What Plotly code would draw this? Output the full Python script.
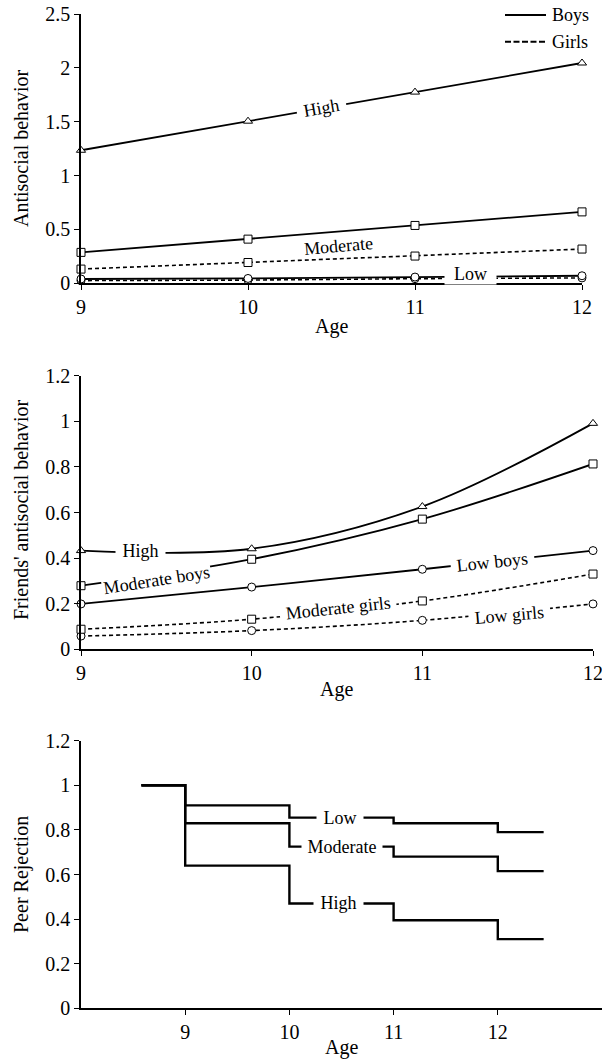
import plotly.graph_objects as go

W, H = 602, 1059
FONT = "Liberation Serif"

ages = [9, 10, 11, 12]

# Panel 1: Antisocial behavior
asb_high_boys = [1.235, 1.505, 1.775, 2.045]
asb_mod_boys = [0.287, 0.41, 0.537, 0.663]
asb_mod_girls = [0.132, 0.193, 0.253, 0.318]
asb_low_boys = [0.04, 0.045, 0.058, 0.07]
asb_low_girls = [0.025, 0.03, 0.043, 0.05]

# Panel 2: Friends' antisocial behavior
fr_high = [0.433, 0.441, 0.626, 0.991]
fr_mod_boys = [0.279, 0.395, 0.571, 0.813]
fr_low_boys = [0.199, 0.273, 0.351, 0.433]
fr_mod_girls = [0.088, 0.132, 0.212, 0.330]
fr_low_girls = [0.058, 0.082, 0.127, 0.199]

# Panel 3: Peer rejection (survival-type steps)
rej_x = [8.58, 9, 10, 11, 12, 12.44]
rej_low = [1.0, 0.91, 0.855, 0.83, 0.79, 0.79]
rej_mod = [1.0, 0.83, 0.725, 0.68, 0.615, 0.615]
rej_high = [1.0, 0.64, 0.47, 0.395, 0.31, 0.31]

tick_vals_x = [9, 10, 11, 12]


def px_x(p):
    return p / W


def px_y(p):
    return 1 - p / H


fig = go.Figure()

DASH = "4px,3px"


def add_line(x, y, xa, ya, symbol=None, dash="solid", shape="linear", width=1.8):
    mode = "lines+markers" if symbol else "lines"
    fig.add_trace(go.Scatter(
        x=x, y=y, xaxis=xa, yaxis=ya, mode=mode,
        line=dict(color="black", width=width, dash=dash, shape=shape),
        marker=dict(symbol=symbol, size=8, color="white",
                    line=dict(color="black", width=1)) if symbol else None,
        cliponaxis=False, showlegend=False, hoverinfo="skip"))


# Panel 1
add_line(ages, asb_low_girls, "x", "y", "circle", DASH, width=1.6)
add_line(ages, asb_low_boys, "x", "y", "circle")
add_line(ages, asb_mod_girls, "x", "y", "square", DASH, width=1.6)
add_line(ages, asb_mod_boys, "x", "y", "square")
add_line(ages, asb_high_boys, "x", "y", "triangle-up")

# Panel 2
add_line(ages, fr_low_girls, "x2", "y2", "circle", DASH, "spline", width=1.6)
add_line(ages, fr_mod_girls, "x2", "y2", "square", DASH, "spline", width=1.6)
add_line(ages, fr_low_boys, "x2", "y2", "circle", "solid", "spline")
add_line(ages, fr_mod_boys, "x2", "y2", "square", "solid", "spline")
add_line(ages, fr_high, "x2", "y2", "triangle-up", "solid", "spline")

# Panel 3
for series in (rej_low, rej_mod, rej_high):
    add_line(rej_x, series, "x3", "y3", None, "solid", "hv", width=2.4)

axis_common = dict(
    showline=True, linecolor="black", linewidth=1.5,
    ticks="outside", ticklen=5, tickwidth=1.2, tickcolor="black",
    showgrid=False, zeroline=False, fixedrange=True, automargin=False,
    ticklabeloverflow="allow",
    tickfont=dict(family=FONT, size=20, color="black"),
)

fig.update_layout(
    template="none",
    width=W, height=H,
    margin=dict(l=0, r=0, t=0, b=0, pad=0),
    paper_bgcolor="white", plot_bgcolor="white",
    showlegend=False,
    xaxis=dict(domain=[px_x(81), px_x(582)], range=[9, 12], anchor="y",
               tickvals=tick_vals_x, **axis_common),
    yaxis=dict(domain=[px_y(283.3), px_y(14)], range=[0, 2.5], anchor="x",
               tickvals=[0, 0.5, 1, 1.5, 2, 2.5],
               ticktext=["0", "0.5", "1", "1.5", "2", "2.5"], **axis_common),
    xaxis2=dict(domain=[px_x(81), px_x(593)], range=[9, 12], anchor="y2",
                tickvals=tick_vals_x, **axis_common),
    yaxis2=dict(domain=[px_y(649.3), px_y(375.7)], range=[0, 1.2], anchor="x2",
                tickvals=[0, 0.2, 0.4, 0.6, 0.8, 1, 1.2],
                ticktext=["0", "0.2", "0.4", "0.6", "0.8", "1", "1.2"], **axis_common),
    xaxis3=dict(domain=[px_x(81), 1.0], range=[8, 13], anchor="y3",
                tickvals=tick_vals_x, **axis_common),
    yaxis3=dict(domain=[px_y(1008.3), px_y(740.7)], range=[0, 1.2], anchor="x3",
                tickvals=[0, 0.2, 0.4, 0.6, 0.8, 1, 1.2],
                ticktext=["0", "0.2", "0.4", "0.6", "0.8", "1", "1.2"], **axis_common),
)

NB = "\u00a0"
ann_font = dict(family=FONT, size=18, color="black")


def label(text, x, y, xr, yr, angle=0, pad=1):
    fig.add_annotation(text=text, x=x, y=y, xref=xr, yref=yr, showarrow=False,
                       textangle=angle, bgcolor="white", borderpad=pad,
                       font=ann_font, xanchor="center", yanchor="middle")


# Panel 1 labels
label(NB + "High" + NB, 10.44, 1.624, "x", "y", -10, 2)
fig.add_annotation(text="Moderate", x=10.54, y=0.345, xref="x", yref="y",
                   showarrow=False, textangle=-5, font=ann_font)
label(NB * 2 + "Low" + NB * 2, 11.33, 0.09, "x", "y", 0, 0)

# Panel 2 labels
label(NB + "High" + NB, 9.35, 0.43, "x2", "y2", 0, 2)
label("Moderate boys", 9.445, 0.304, "x2", "y2", -9, 1)
label(NB + "Low boys" + NB, 11.41, 0.384, "x2", "y2", -6, 1)
label(NB + "Moderate girls" + NB, 10.505, 0.18, "x2", "y2", -6, 1)
label(NB + "Low girls" + NB, 11.513, 0.15, "x2", "y2", -5, 1)

# Panel 3 labels
label(NB + "Low" + NB, 10.49, 0.855, "x3", "y3", 0, 2)
label(NB + "Moderate" + NB, 10.505, 0.725, "x3", "y3", 0, 1)
label(NB + "High" + NB, 10.47, 0.47, "x3", "y3", 0, 2)

# Axis titles
title_font = dict(family=FONT, size=20, color="black")
for text, x, y in (("Age", 332, 326), ("Age", 337, 689), ("Age", 341, 1047)):
    fig.add_annotation(text=text, x=px_x(x), y=px_y(y), xref="paper", yref="paper",
                       showarrow=False, font=title_font, xanchor="center", yanchor="middle")
for text, y in (("Antisocial behavior", 148), ("Friends' antisocial behavior", 510),
                ("Peer Rejection", 875)):
    fig.add_annotation(text=text, x=px_x(21), y=px_y(y), xref="paper", yref="paper",
                       showarrow=False, font=title_font, textangle=-90,
                       xanchor="center", yanchor="middle")

# Legend (top right)
for ly, dash, name in ((15, "solid", "Boys"), (41.7, "6px,2.5px", "Girls")):
    fig.add_shape(type="line", xref="paper", yref="paper",
                  x0=px_x(505), x1=px_x(546), y0=px_y(ly), y1=px_y(ly),
                  line=dict(color="black", width=2, dash=dash))
    fig.add_annotation(text=name, x=px_x(550), y=px_y(ly), xref="paper", yref="paper",
                       showarrow=False, font=dict(family=FONT, size=18, color="black"),
                       xanchor="left", yanchor="middle")

fig.write_html(
    "out.html",
    config={"displayModeBar": False, "responsive": False},
    post_script="document.body.style.margin='0';document.body.style.padding='0';"
                "document.body.style.overflow='hidden';",
)
